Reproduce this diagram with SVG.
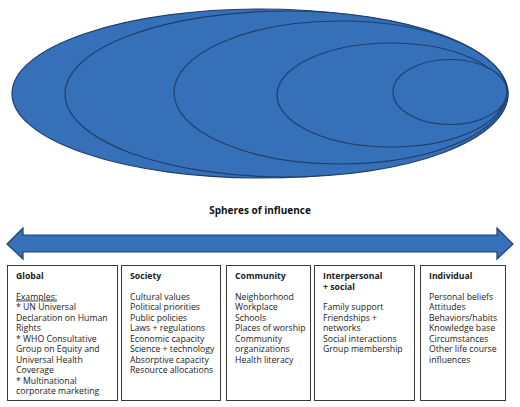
<svg xmlns="http://www.w3.org/2000/svg" width="520" height="407" viewBox="0 0 520 407">
<style>
.sph{fill:#3670b8;stroke:#1f3f6e;stroke-width:1.2}
.box{fill:#fff;stroke:#3a3a3a;stroke-width:1}
text{font-family:"Open Sans","Noto Sans","Liberation Sans",sans-serif;font-size:8.7px;fill:#222}
.h{font-weight:bold}
.t{font-size:10px;font-weight:bold;fill:#111}
</style>
<rect width="520" height="407" fill="#fff"/>
<g id="spheres">
<ellipse class="sph" cx="260" cy="93.5" rx="248" ry="84.5"/>
<ellipse class="sph" cx="286.5" cy="94" rx="221.5" ry="83"/>
<ellipse class="sph" cx="340.5" cy="92.5" rx="166.5" ry="71.5"/>
<ellipse class="sph" cx="391" cy="95" rx="114" ry="52"/>
<ellipse class="sph" cx="450" cy="92" rx="57" ry="32.5"/>
</g>
<text class="t" x="260" y="214" text-anchor="middle">Spheres of influence</text>
<g id="connectors">
<path class="sph" d="M7,244 L23,228 L23,235 L497,235 L497,228 L513,244 L497,259 L497,252 L23,252 L23,259 Z"/>
</g>
<g id="global">
<rect class="box" x="7.5" y="265.5" width="110" height="135"/>
<text x="16"><tspan class="h" x="16" y="279">Global</tspan><tspan x="16" y="299.5" text-decoration="underline">Examples:</tspan><tspan x="16" y="310">* UN Universal</tspan><tspan x="16" y="320.5">Declaration on Human</tspan><tspan x="16" y="331">Rights</tspan><tspan x="16" y="341.5">* WHO Consultative</tspan><tspan x="16" y="352">Group on Equity and</tspan><tspan x="16" y="362.5">Universal Health</tspan><tspan x="16" y="373">Coverage</tspan><tspan x="16" y="383.5">* Multinational</tspan><tspan x="16" y="394">corporate marketing</tspan></text>
</g>
<g id="society">
<rect class="box" x="121.5" y="265.5" width="99" height="135"/>
<text><tspan class="h" x="130" y="279">Society</tspan><tspan x="130" y="299.5">Cultural values</tspan><tspan x="130" y="310">Political priorities</tspan><tspan x="130" y="320.5">Public policies</tspan><tspan x="130" y="331">Laws + regulations</tspan><tspan x="130" y="341.5">Economic capacity</tspan><tspan x="130" y="352">Science + technology</tspan><tspan x="130" y="362.5">Absorptive capacity</tspan><tspan x="130" y="373">Resource allocations</tspan></text>
</g>
<g id="community">
<rect class="box" x="226.5" y="265.5" width="84" height="135"/>
<text><tspan class="h" x="235" y="279">Community</tspan><tspan x="235" y="299.5">Neighborhood</tspan><tspan x="235" y="310">Workplace</tspan><tspan x="235" y="320.5">Schools</tspan><tspan x="235" y="331">Places of worship</tspan><tspan x="235" y="341.5">Community</tspan><tspan x="235" y="352">organizations</tspan><tspan x="235" y="362.5">Health literacy</tspan></text>
</g>
<g id="interpersonal">
<rect class="box" x="314.5" y="265.5" width="100" height="135"/>
<text><tspan class="h" x="323" y="279">Interpersonal</tspan><tspan class="h" x="323" y="289.5">+ social</tspan><tspan x="323" y="310">Family support</tspan><tspan x="323" y="320.5">Friendships +</tspan><tspan x="323" y="331">networks</tspan><tspan x="323" y="341.5">Social interactions</tspan><tspan x="323" y="352">Group membership</tspan></text>
</g>
<g id="individual">
<rect class="box" x="420.5" y="265.5" width="85" height="135"/>
<text><tspan class="h" x="429" y="279">Individual</tspan><tspan x="429" y="299.5">Personal beliefs</tspan><tspan x="429" y="310">Attitudes</tspan><tspan x="429" y="320.5">Behaviors/habits</tspan><tspan x="429" y="331">Knowledge base</tspan><tspan x="429" y="341.5">Circumstances</tspan><tspan x="429" y="352">Other life course</tspan><tspan x="429" y="362.5">influences</tspan></text>
</g>
</svg>
